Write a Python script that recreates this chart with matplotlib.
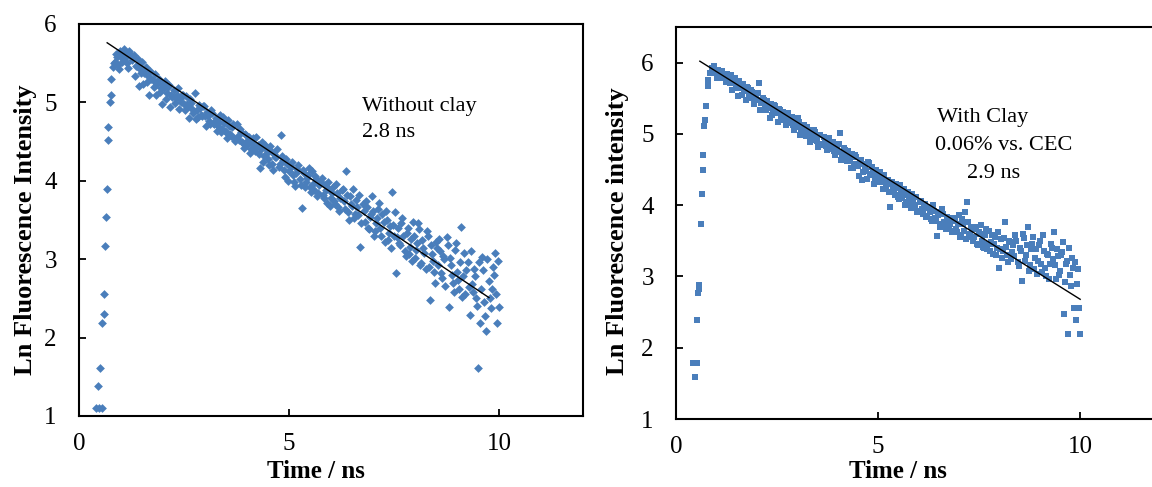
import matplotlib
matplotlib.use("Agg")
import matplotlib.pyplot as plt

plt.rcParams['font.family'] = ['Liberation Serif', 'DejaVu Serif']

# ---- left panel: without clay ----
left_rise_t = [0.40, 0.48, 0.55, 0.44, 0.50, 0.55, 0.60, 0.60, 0.63, 0.65, 0.67, 0.69, 0.70, 0.73, 0.75, 0.77]
left_rise_y = [1.10, 1.10, 1.10, 1.38, 1.61, 2.19, 2.30, 2.56, 3.17, 3.54, 3.90, 4.52, 4.69, 5.01, 5.10, 5.30]

left_t = [
    0.80, 0.85, 0.90, 0.95, 1.00, 1.05, 1.10, 1.15, 1.20, 1.25,
    1.30, 1.35, 1.40, 1.45, 1.50, 1.55, 1.60, 1.65, 1.70, 1.75,
    1.80, 1.85, 1.90, 1.95, 2.00, 2.05, 2.10, 2.15, 2.20, 2.25,
    2.30, 2.35, 2.40, 2.45, 2.50, 2.55, 2.60, 2.65, 2.70, 2.75,
    2.80, 2.85, 2.90, 2.95, 3.00, 3.05, 3.10, 3.15, 3.20, 3.25,
    3.30, 3.35, 3.40, 3.45, 3.50, 3.55, 3.60, 3.65, 3.70, 3.75,
    3.80, 3.85, 3.90, 3.95, 4.00, 4.05, 4.10, 4.15, 4.20, 4.25,
    4.30, 4.35, 4.40, 4.45, 4.50, 4.55, 4.60, 4.65, 4.70, 4.75,
    4.80, 4.85, 4.90, 4.95, 5.00, 5.05, 5.10, 5.15, 5.20, 5.25,
    5.30, 5.35, 5.40, 5.45, 5.50, 5.55, 5.60, 5.65, 5.70, 5.75,
    5.80, 5.85, 5.90, 5.95, 6.00, 6.05, 6.10, 6.15, 6.20, 6.25,
    6.30, 6.35, 6.40, 6.45, 6.50, 6.55, 6.60, 6.65, 6.70, 6.75,
    6.80, 6.85, 6.90, 6.95, 7.00, 7.05, 7.10, 7.15, 7.20, 7.25,
    7.30, 7.35, 7.40, 7.45, 7.50, 7.55, 7.60, 7.65, 7.70, 7.75,
    7.80, 7.85, 7.90, 7.95, 8.00, 8.05, 8.10, 8.15, 8.20, 8.25,
    8.30, 8.35, 8.40, 8.45, 8.50, 8.55, 8.60, 8.65, 8.70, 8.75,
    8.80, 8.85, 8.90, 8.95, 9.00, 9.05, 9.10, 9.15, 9.20, 9.25,
    9.30, 9.35, 9.40, 9.45, 9.50, 9.55, 9.60, 9.65, 9.70, 9.75,
    9.80, 9.85, 9.90, 9.95, 10.00,
]
left_y = [
    5.45, 5.52, 5.58, 5.42, 5.60, 5.55, 5.63, 5.50, 5.66, 5.54,
    5.60, 5.47, 5.55, 5.43, 5.52, 5.38, 5.45, 5.33, 5.40, 5.28,
    5.36, 5.24, 5.30, 5.18, 5.24, 5.27, 5.12, 5.22, 5.10, 5.16,
    5.05, 5.18, 5.04, 5.10, 4.98, 5.08, 4.96, 5.04, 4.92, 5.12,
    4.90, 4.97, 4.84, 4.95, 4.82, 4.88, 4.76, 4.90, 4.74, 4.80,
    4.70, 4.84, 4.66, 4.74, 4.62, 4.78, 4.60, 4.68, 4.55, 4.72,
    4.52, 4.62, 4.48, 4.60, 4.45, 4.56, 4.40, 4.55, 4.38, 4.46,
    4.16, 4.50, 4.32, 4.40, 4.28, 4.44, 4.22, 4.34, 4.30, 4.18,
    4.58, 4.26, 4.05, 4.22, 4.12, 4.18, 4.08, 3.93, 4.15, 4.02,
    3.65, 4.10, 3.98, 4.08, 3.92, 4.12, 3.88, 4.02, 3.85, 3.98,
    3.82, 3.95, 3.72, 3.90, 3.78, 3.92, 3.70, 3.85, 3.62, 3.88,
    3.74, 4.12, 3.60, 3.80, 3.68, 3.52, 3.76, 3.56, 3.16, 3.70,
    3.48, 3.66, 3.38, 3.58, 3.62, 3.36, 3.52, 3.72, 3.30, 3.48,
    3.62, 3.24, 3.42, 3.86, 3.30, 2.82, 3.40, 3.18, 3.52, 3.10,
    3.34, 3.06, 3.26, 3.48, 3.02, 3.20, 3.38, 2.95, 3.14, 2.88,
    3.30, 2.48, 3.06, 2.84, 3.22, 2.92, 3.10, 2.76, 3.00, 3.28,
    2.39, 2.92, 2.70, 3.12, 2.84, 2.62, 3.41, 2.78, 2.55, 2.96,
    2.29, 2.68, 2.88, 2.50, 1.61, 2.18, 3.03, 2.45, 2.08, 2.72,
    2.38, 2.90, 3.08, 2.18, 2.39,
]
# channels in between the ones above
left_t2 = [
    0.825, 0.875, 0.925, 0.975, 1.025, 1.075, 1.125, 1.175, 1.225, 1.275,
    1.325, 1.375, 1.425, 1.475, 1.525, 1.575, 1.625, 1.675, 1.725, 1.775,
    1.825, 1.875, 1.925, 1.975, 2.025, 2.075, 2.125, 2.175, 2.225, 2.275,
    2.325, 2.375, 2.425, 2.475, 2.525, 2.575, 2.625, 2.675, 2.725, 2.775,
    2.825, 2.875, 2.925, 2.975, 3.025, 3.075, 3.125, 3.175, 3.225, 3.275,
    3.325, 3.375, 3.425, 3.475, 3.525, 3.575, 3.625, 3.675, 3.725, 3.775,
    3.825, 3.875, 3.925, 3.975, 4.025, 4.075, 4.125, 4.175, 4.225, 4.275,
    4.325, 4.375, 4.425, 4.475, 4.525, 4.575, 4.625, 4.675, 4.725, 4.775,
    4.825, 4.875, 4.925, 4.975, 5.025, 5.075, 5.125, 5.175, 5.225, 5.275,
    5.325, 5.375, 5.425, 5.475, 5.525, 5.575, 5.625, 5.675, 5.725, 5.775,
    5.825, 5.875, 5.925, 5.975, 6.025, 6.075, 6.125, 6.175, 6.225, 6.275,
    6.325, 6.375, 6.425, 6.475, 6.525, 6.575, 6.625, 6.675, 6.725, 6.775,
    6.825, 6.875, 6.925, 6.975, 7.025, 7.075, 7.125, 7.175, 7.225, 7.275,
    7.325, 7.375, 7.425, 7.475, 7.525, 7.575, 7.625, 7.675, 7.725, 7.775,
    7.825, 7.875, 7.925, 7.975, 8.025, 8.075, 8.125, 8.175, 8.225, 8.275,
    8.325, 8.375, 8.425, 8.475, 8.525, 8.575, 8.625, 8.675, 8.725, 8.775,
    8.825, 8.875, 8.925, 8.975, 9.025, 9.075, 9.125, 9.175, 9.225, 9.275,
    9.325, 9.375, 9.425, 9.475, 9.525, 9.575, 9.625, 9.675, 9.725, 9.775,
    9.825, 9.875, 9.925, 9.975,
]
left_y2 = [
    5.50, 5.62, 5.48, 5.66, 5.52, 5.68, 5.58, 5.44, 5.62, 5.56,
    5.33, 5.46, 5.21, 5.37, 5.24, 5.42, 5.26, 5.10, 5.30, 5.19,
    5.10, 5.27, 5.13, 4.98, 5.18, 5.04, 5.20, 4.94, 5.07, 4.99,
    5.09, 4.91, 5.01, 5.10, 4.90, 4.98, 4.80, 4.99, 4.87, 4.79,
    4.81, 4.93, 4.82, 4.96, 4.70, 4.82, 4.72, 4.87, 4.73, 4.63,
    4.75, 4.62, 4.81, 4.64, 4.54, 4.70, 4.57, 4.73, 4.51, 4.57,
    4.66, 4.50, 4.42, 4.58, 4.52, 4.36, 4.48, 4.42, 4.56, 4.34,
    4.40, 4.24, 4.46, 4.36, 4.20, 4.38, 4.14, 4.30, 4.40, 4.22,
    4.32, 4.14, 4.28, 4.00, 4.20, 4.24, 3.98, 4.10, 4.20, 3.94,
    4.14, 3.92, 4.04, 4.16, 3.86, 3.96, 4.06, 3.80, 3.94, 4.04,
    3.78, 3.88, 3.98, 3.68, 3.84, 3.74, 3.96, 3.66, 3.78, 3.90,
    3.64, 3.82, 3.50, 3.70, 3.90, 3.58, 3.66, 3.82, 3.46, 3.62,
    3.74, 3.40, 3.54, 3.80, 3.30, 3.46, 3.64, 3.40, 3.58, 3.22,
    3.50, 3.34, 3.14, 3.44, 3.60, 3.28, 3.20, 3.46, 3.30, 3.04,
    3.40, 3.16, 2.98, 3.30, 3.12, 3.46, 2.92, 3.24, 3.08, 3.36,
    2.90, 3.18, 2.98, 2.70, 3.14, 3.26, 2.82, 3.04, 2.66, 3.18,
    3.02, 2.80, 2.58, 3.20, 2.74, 2.96, 2.52, 3.08, 2.86, 2.64,
    3.10, 2.58, 2.78, 2.40, 2.96, 2.62, 2.86, 2.28, 3.00, 2.50,
    2.62, 2.80, 2.55, 2.98,
]
left_fit_t = [0.67, 9.76]
left_fit_y = [5.76, 2.51]

# ---- right panel: with clay ----
right_rise_t = [0.43, 0.52, 0.47, 0.51, 0.55, 0.56, 0.57, 0.62, 0.64, 0.66, 0.68, 0.70, 0.71, 0.74, 0.78, 0.80]
right_rise_y = [1.78, 1.78, 1.59, 2.39, 2.77, 2.83, 2.88, 3.73, 4.15, 4.49, 4.71, 5.11, 5.20, 5.39, 5.67, 5.75]

right_t = [
    0.85, 0.90, 0.95, 1.00, 1.05, 1.10, 1.15, 1.20, 1.25, 1.30,
    1.35, 1.40, 1.45, 1.50, 1.55, 1.60, 1.65, 1.70, 1.75, 1.80,
    1.85, 1.90, 1.95, 2.00, 2.05, 2.10, 2.15, 2.20, 2.25, 2.30,
    2.35, 2.40, 2.45, 2.50, 2.55, 2.60, 2.65, 2.70, 2.75, 2.80,
    2.85, 2.90, 2.95, 3.00, 3.05, 3.10, 3.15, 3.20, 3.25, 3.30,
    3.35, 3.40, 3.45, 3.50, 3.55, 3.60, 3.65, 3.70, 3.75, 3.80,
    3.85, 3.90, 3.95, 4.00, 4.05, 4.10, 4.15, 4.20, 4.25, 4.30,
    4.35, 4.40, 4.45, 4.50, 4.55, 4.60, 4.65, 4.70, 4.75, 4.80,
    4.85, 4.90, 4.95, 5.00, 5.05, 5.10, 5.15, 5.20, 5.25, 5.30,
    5.35, 5.40, 5.45, 5.50, 5.55, 5.60, 5.65, 5.70, 5.75, 5.80,
    5.85, 5.90, 5.95, 6.00, 6.05, 6.10, 6.15, 6.20, 6.25, 6.30,
    6.35, 6.40, 6.45, 6.50, 6.55, 6.60, 6.65, 6.70, 6.75, 6.80,
    6.85, 6.90, 6.95, 7.00, 7.05, 7.10, 7.15, 7.20, 7.25, 7.30,
    7.35, 7.40, 7.45, 7.50, 7.55, 7.60, 7.65, 7.70, 7.75, 7.80,
    7.85, 7.90, 7.95, 8.00, 8.05, 8.10, 8.15, 8.20, 8.25, 8.30,
    8.35, 8.40, 8.45, 8.50, 8.55, 8.60, 8.65, 8.70, 8.75, 8.80,
    8.85, 8.90, 8.95, 9.00, 9.05, 9.10, 9.15, 9.20, 9.25, 9.30,
    9.35, 9.40, 9.45, 9.50, 9.55, 9.60, 9.65, 9.70, 9.75, 9.80,
    9.85, 9.90, 9.95, 10.00,
]
right_y = [
    5.85, 5.92, 5.95, 5.86, 5.90, 5.82, 5.88, 5.80, 5.84, 5.76,
    5.82, 5.72, 5.78, 5.68, 5.74, 5.64, 5.70, 5.60, 5.66, 5.56,
    5.62, 5.52, 5.58, 5.48, 5.71, 5.44, 5.50, 5.40, 5.46, 5.36,
    5.42, 5.33, 5.39, 5.29, 5.35, 5.24, 5.31, 5.20, 5.28, 5.17,
    5.24, 5.13, 5.20, 5.10, 5.16, 5.05, 5.12, 5.02, 5.09, 4.98,
    5.06, 4.94, 5.02, 4.90, 4.98, 4.86, 4.95, 4.83, 4.92, 4.80,
    4.88, 4.76, 4.85, 4.74, 5.01, 4.70, 4.80, 4.66, 4.76, 4.62,
    4.72, 4.58, 4.68, 4.55, 4.64, 4.36, 4.58, 4.48, 4.60, 4.44,
    4.54, 4.30, 4.50, 4.38, 4.47, 4.32, 4.42, 4.26, 4.36, 3.98,
    4.33, 4.20, 4.30, 4.12, 4.28, 4.10, 4.22, 4.05, 4.18, 4.02,
    4.16, 3.96, 4.12, 3.92, 4.06, 3.88, 4.02, 3.85, 3.98, 3.80,
    4.00, 3.82, 3.57, 3.90, 3.74, 3.88, 3.72, 3.84, 3.68, 3.80,
    3.64, 3.78, 3.62, 3.86, 3.58, 3.74, 3.90, 4.04, 3.56, 3.70,
    3.50, 3.66, 3.46, 3.62, 3.72, 3.42, 3.58, 3.38, 3.64, 3.48,
    3.32, 3.56, 3.40, 3.12, 3.52, 3.36, 3.76, 3.30, 3.50, 3.24,
    3.44, 3.58, 3.20, 3.40, 2.94, 3.54, 3.30, 3.69, 3.16, 3.46,
    3.10, 3.38, 3.22, 3.50, 3.06, 3.36, 3.00, 3.30, 3.18, 3.40,
    3.62, 2.96, 3.28, 3.08, 3.34, 2.47, 3.18, 2.19, 3.02, 3.26,
    2.56, 2.39, 3.10, 2.19,
]
right_t2 = [
    0.875, 0.925, 0.975, 1.025, 1.075, 1.125, 1.175, 1.225, 1.275, 1.325,
    1.375, 1.425, 1.475, 1.525, 1.575, 1.625, 1.675, 1.725, 1.775, 1.825,
    1.875, 1.925, 1.975, 2.025, 2.075, 2.125, 2.175, 2.225, 2.275, 2.325,
    2.375, 2.425, 2.475, 2.525, 2.575, 2.625, 2.675, 2.725, 2.775, 2.825,
    2.875, 2.925, 2.975, 3.025, 3.075, 3.125, 3.175, 3.225, 3.275, 3.325,
    3.375, 3.425, 3.475, 3.525, 3.575, 3.625, 3.675, 3.725, 3.775, 3.825,
    3.875, 3.925, 3.975, 4.025, 4.075, 4.125, 4.175, 4.225, 4.275, 4.325,
    4.375, 4.425, 4.475, 4.525, 4.575, 4.625, 4.675, 4.725, 4.775, 4.825,
    4.875, 4.925, 4.975, 5.025, 5.075, 5.125, 5.175, 5.225, 5.275, 5.325,
    5.375, 5.425, 5.475, 5.525, 5.575, 5.625, 5.675, 5.725, 5.775, 5.825,
    5.875, 5.925, 5.975, 6.025, 6.075, 6.125, 6.175, 6.225, 6.275, 6.325,
    6.375, 6.425, 6.475, 6.525, 6.575, 6.625, 6.675, 6.725, 6.775, 6.825,
    6.875, 6.925, 6.975, 7.025, 7.075, 7.125, 7.175, 7.225, 7.275, 7.325,
    7.375, 7.425, 7.475, 7.525, 7.575, 7.625, 7.675, 7.725, 7.775, 7.825,
    7.875, 7.925, 7.975, 8.025, 8.075, 8.125, 8.175, 8.225, 8.275, 8.325,
    8.375, 8.425, 8.475, 8.525, 8.575, 8.625, 8.675, 8.725, 8.775, 8.825,
    8.875, 8.925, 8.975, 9.025, 9.075, 9.125, 9.175, 9.225, 9.275, 9.325,
    9.375, 9.425, 9.475, 9.525, 9.575, 9.625, 9.675, 9.725, 9.775, 9.825,
    9.875, 9.925, 9.975,
]
right_y2 = [
    5.86, 5.92, 5.85, 5.79, 5.86, 5.78, 5.80, 5.73, 5.80, 5.72,
    5.62, 5.76, 5.65, 5.53, 5.69, 5.55, 5.61, 5.48, 5.65, 5.50,
    5.59, 5.42, 5.49, 5.57, 5.34, 5.43, 5.48, 5.33, 5.41, 5.23,
    5.27, 5.41, 5.29, 5.17, 5.34, 5.20, 5.26, 5.12, 5.29, 5.15,
    5.24, 5.06, 5.13, 5.22, 4.99, 5.07, 5.12, 4.97, 5.06, 4.88,
    4.91, 5.05, 4.94, 4.82, 4.98, 4.84, 4.90, 4.77, 4.94, 4.79,
    4.88, 4.71, 4.78, 4.86, 4.63, 4.72, 4.77, 4.62, 4.70, 4.52,
    4.52, 4.71, 4.56, 4.41, 4.64, 4.46, 4.54, 4.37, 4.59, 4.42,
    4.46, 4.36, 4.44, 4.32, 4.40, 4.22, 4.36, 4.30, 4.18, 4.30,
    4.26, 4.14, 4.24, 4.08, 4.20, 4.16, 4.00, 4.14, 4.08, 3.96,
    4.08, 4.00, 3.90, 4.04, 3.94, 4.00, 3.84, 3.96, 3.90, 3.78,
    3.92, 3.78, 3.86, 3.70, 3.94, 3.76, 3.66, 3.82, 3.74, 3.62,
    3.82, 3.66, 3.74, 3.56, 3.80, 3.64, 3.52, 3.76, 3.60, 3.68,
    3.56, 3.70, 3.44, 3.60, 3.50, 3.40, 3.66, 3.46, 3.36, 3.58,
    3.46, 3.30, 3.62, 3.38, 3.26, 3.54, 3.42, 3.20, 3.48, 3.34,
    3.28, 3.50, 3.14, 3.36, 3.60, 3.22, 3.44, 3.08, 3.38, 3.56,
    3.26, 3.04, 3.44, 3.18, 3.58, 3.12, 3.32, 2.96, 3.46, 3.24,
    3.16, 3.38, 3.02, 3.30, 3.48, 2.92, 3.22, 3.40, 2.86, 3.12,
    3.20, 2.90, 2.56,
]
right_fit_t = [0.59, 10.0]
right_fit_y = [6.02, 2.68]

dot_color = '#4a7ebb'

fig = plt.figure(figsize=(11.52, 4.87), dpi=100)
ax1 = fig.add_axes([0.0686, 0.1458, 0.4375, 0.805])
ax2 = fig.add_axes([0.5868, 0.1396, 0.4210, 0.805])

ax1.scatter(left_rise_t + left_t + left_t2, left_rise_y + left_y + left_y2,
            marker='D', s=20, color=dot_color, linewidths=0, zorder=2)
ax1.plot(left_fit_t, left_fit_y, color='black', lw=1.0, zorder=3)

ax2.scatter(right_rise_t + right_t + right_t2, right_rise_y + right_y + right_y2,
            marker='s', s=17, color=dot_color, linewidths=0, zorder=2)
ax2.plot(right_fit_t, right_fit_y, color='black', lw=1.0, zorder=3)

for ax, ytop, ylab in [(ax1, 6, 'Ln Fluorescence Intensity'),
                       (ax2, 6.5, 'Ln Fluorescence intensity')]:
    ax.set_xlim(0, 12)
    ax.set_ylim(1, ytop)
    ax.set_xticks([0, 5, 10])
    ax.set_yticks([1, 2, 3, 4, 5, 6])
    for sp in ax.spines.values():
        sp.set_linewidth(1.5)
    ax.tick_params(direction='in', length=5, width=1.3, labelsize=18)
    ax.tick_params(axis='y', pad=16)
    ax.tick_params(axis='x', pad=12)
    ax.set_ylabel(ylab, fontsize=19, fontweight='bold')
    ax.set_xlabel('Time / ns', fontsize=18, fontweight='bold')

ax1.yaxis.set_label_coords(-0.083, 0.474)
ax2.yaxis.set_label_coords(-0.097, 0.48)
ax1.xaxis.set_label_coords(0.47, -0.112)
ax2.xaxis.set_label_coords(0.458, -0.105)

ax1.text(6.74, 4.95, 'Without clay', fontsize=16, va='center', ha='left')
ax1.text(6.74, 4.62, '2.8 ns', fontsize=16, va='center', ha='left')

ax2.text(6.46, 5.23, 'With Clay', fontsize=16, va='center', ha='left')
ax2.text(6.41, 4.84, '0.06% vs. CEC', fontsize=16, va='center', ha='left')
ax2.text(7.20, 4.44, '2.9 ns', fontsize=16, va='center', ha='left')

fig.savefig('out.png', dpi=100)
